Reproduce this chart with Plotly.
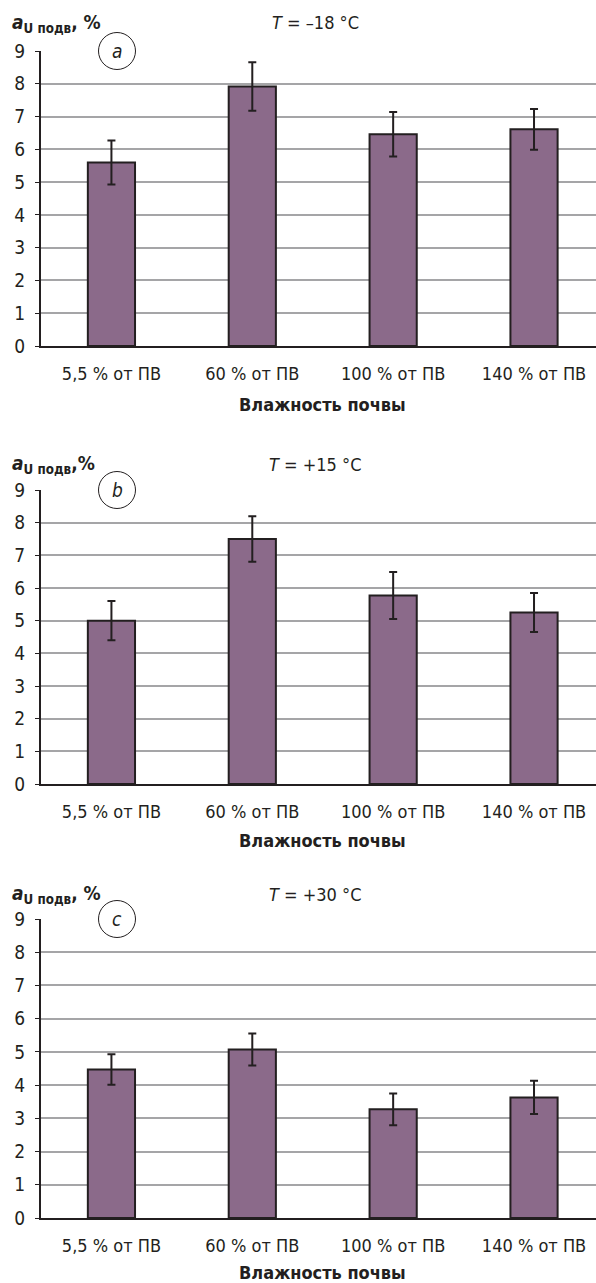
import plotly.graph_objects as go

# ---- data ----
categories = ["5,5 % от ПВ", "60 % от ПВ", "100 % от ПВ", "140 % от ПВ"]
values_a = [5.60, 7.92, 6.46, 6.61]
errors_a = [0.67, 0.74, 0.68, 0.62]
values_b = [5.00, 7.50, 5.77, 5.25]
errors_b = [0.60, 0.70, 0.72, 0.60]
values_c = [4.47, 5.07, 3.27, 3.63]
errors_c = [0.46, 0.48, 0.48, 0.50]
y_ticks = [0, 1, 2, 3, 4, 5, 6, 7, 8, 9]
temperatures = ["–18", "+15", "+30"]
panel_letters = ["a", "b", "c"]
y_titles = ["<b><i>a</i></b><sub><b>U подв</b></sub><b>, %</b>",
            "<b><i>a</i></b><sub><b>U подв</b></sub><b>,%</b>",
            "<b><i>a</i></b><sub><b>U подв</b></sub><b>, %</b>"]
x_title = "Влажность почвы"

# ---- style ----
W, H = 596, 1283
FONT = "Liberation Sans Narrow, DejaVu Sans Condensed, Arial Narrow, sans-serif"
INK = "#231f20"
BAR = "#8b6a8a"
GRID = "#a5a5a7"

def px_x(p):
    return p / W

def px_y(p):
    return 1 - p / H

panels = [
    dict(top=51, bottom=346, title_y=23, xt_y=405),
    dict(top=490, bottom=784, title_y=465, xt_y=840),
    dict(top=919, bottom=1218, title_y=895, xt_y=1272),
]
series = [(values_a, errors_a), (values_b, errors_b), (values_c, errors_c)]

axis_left = 41
x_range = [-0.5, 3.44]

fig = go.Figure()
layout = dict(
    width=W, height=H,
    margin=dict(l=0, r=0, t=0, b=0, autoexpand=False),
    paper_bgcolor="white", plot_bgcolor="white",
    showlegend=False,
    font=dict(family=FONT, color=INK, size=18),
)
annotations = []
shapes = []

for i, (p, (vals, errs)) in enumerate(zip(panels, series)):
    n = "" if i == 0 else str(i + 1)
    xa, ya = "x" + n, "y" + n
    fig.add_trace(go.Bar(
        x=list(range(len(categories))), y=vals,
        xaxis=xa, yaxis=ya,
        marker=dict(color=BAR, line=dict(color=INK, width=2)),
        error_y=dict(type="data", array=errs, visible=True,
                     color=INK, thickness=2, width=4),
        width=0.335,
    ))
    layout["xaxis" + n] = dict(
        domain=[px_x(axis_left), 1], range=x_range,
        tickmode="array", tickvals=list(range(len(categories))), ticktext=categories,
        showline=True, linecolor=INK, linewidth=2,
        showgrid=False, zeroline=False, ticks="",
        tickfont=dict(family=FONT, size=18, color=INK),
        ticklabelstandoff=10, automargin=False,
        anchor=ya, fixedrange=True,
    )
    layout["yaxis" + n] = dict(
        domain=[px_y(p["bottom"]), px_y(p["top"])], range=[0, 9],
        tickmode="array", tickvals=y_ticks,
        showline=True, linecolor=INK, linewidth=2,
        showgrid=True, gridcolor=GRID, gridwidth=2,
        zeroline=False, ticks="outside", ticklen=4, tickcolor=INK, tickwidth=1,
        tickfont=dict(family=FONT, size=19, color=INK),
        ticklabelstandoff=6, automargin=False,
        anchor=xa, fixedrange=True,
    )
    # y title
    annotations.append(dict(
        x=px_x(10), y=px_y(p["title_y"]), xref="paper", yref="paper",
        xanchor="left", yanchor="middle", showarrow=False,
        text=y_titles[i], font=dict(family=FONT, size=19, color=INK),
    ))
    # temperature
    annotations.append(dict(
        x=px_x(315), y=px_y(p["title_y"] - 1), xref="paper", yref="paper",
        xanchor="center", yanchor="middle", showarrow=False,
        text="<i>T</i> = " + temperatures[i] + " °C",
        font=dict(family=FONT, size=18, color=INK),
    ))
    # x title
    annotations.append(dict(
        x=1.5, y=px_y(p["xt_y"]), xref=xa, yref="paper",
        xanchor="center", yanchor="middle", showarrow=False,
        text="<b>" + x_title + "</b>",
        font=dict(family=FONT, size=18, color=INK),
    ))
    # circled letter
    cx, cy, r = 117, p["top"], 18.5
    shapes.append(dict(
        type="circle", xref="paper", yref="paper",
        x0=px_x(cx - r), x1=px_x(cx + r), y0=px_y(cy + r), y1=px_y(cy - r),
        fillcolor="white", line=dict(color=INK, width=1), layer="above",
    ))
    annotations.append(dict(
        x=px_x(cx), y=px_y(cy), xref="paper", yref="paper",
        xanchor="center", yanchor="middle", showarrow=False,
        text="<i>" + panel_letters[i] + "</i>",
        font=dict(family=FONT, size=19, color=INK),
    ))

layout["annotations"] = annotations
layout["shapes"] = shapes
fig.update_layout(**layout)
fig.write_html(
    "out.html",
    config={"displayModeBar": False},
    post_script="document.body.style.margin='0';document.body.style.padding='0';",
)
